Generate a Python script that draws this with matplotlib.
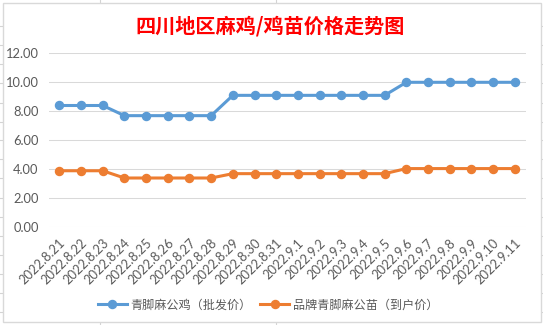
import matplotlib
matplotlib.use('Agg')
import matplotlib.pyplot as plt
import matplotlib.transforms as mtransforms
from matplotlib.patches import Rectangle

plt.rcParams['font.family'] = ['Lato', 'Noto Sans CJK SC', 'DejaVu Sans']

# données
dates = ['2022.8.21', '2022.8.22', '2022.8.23', '2022.8.24', '2022.8.25', '2022.8.26',
         '2022.8.27', '2022.8.28', '2022.8.29', '2022.8.30', '2022.8.31', '2022.9.1',
         '2022.9.2', '2022.9.3', '2022.9.4', '2022.9.5', '2022.9.6', '2022.9.7',
         '2022.9.8', '2022.9.9', '2022.9.10', '2022.9.11']
ji_price = [8.4, 8.4, 8.4, 7.7, 7.7, 7.7, 7.7, 7.7, 9.1, 9.1, 9.1, 9.1,
            9.1, 9.1, 9.1, 9.1, 10.0, 10.0, 10.0, 10.0, 10.0, 10.0]
miao_price = [3.9, 3.9, 3.9, 3.4, 3.4, 3.4, 3.4, 3.4, 3.7, 3.7, 3.7, 3.7,
              3.7, 3.7, 3.7, 3.7, 4.05, 4.05, 4.05, 4.05, 4.05, 4.05]
yticks = [0, 2, 4, 6, 8, 10, 12]

title = '四川地区麻鸡/鸡苗价格走势图'
label_ji = '青脚麻公鸡（批发价）'
label_miao = '品牌青脚麻公苗（到户价）'

W, H = 543, 325
fig = plt.figure(figsize=(W / 100, H / 100), dpi=100)

# fond du tableur (lignes de la feuille) puis zone du graphique
bg = fig.add_axes([0, 0, 1, 1], zorder=-10)
bg.set_xlim(0, W)
bg.set_ylim(H, 0)
bg.axis('off')
for y in [26, 45, 64.3, 83.3, 102.7, 121.7, 140, 159, 178, 197.7, 216.7, 236, 255, 274, 293, 312]:
    bg.plot([0, W], [y, y], color='#d4d4d4', lw=0.8)
for x in [100, 276]:
    bg.plot([x, x], [0, H], color='#d4d4d4', lw=0.8)
bg.add_patch(Rectangle((2.7, 2.5), 538, 319.5, facecolor='white', edgecolor='#d9d9d9', lw=1.0, zorder=5))

left, right = 48.5 / W, 525.6 / W
bottom, top = 1 - 227.3 / H, 1 - 53.3 / H
ax = fig.add_axes([left, bottom, right - left, top - bottom])
ax.patch.set_alpha(0)

x = list(range(len(dates)))
ax.plot(x, ji_price, color='#5B9BD5', lw=2.2, marker='o', markersize=5.8, label=label_ji)
ax.plot(x, miao_price, color='#ED7D31', lw=2.2, marker='o', markersize=5.8, label=label_miao)

ax.set_xlim(-0.5, len(dates) - 0.5)
ax.set_ylim(0, 12)
ax.set_yticks(yticks)
ax.set_yticklabels([f'{v:.2f}' for v in yticks])
ax.yaxis.grid(True, color='#d9d9d9', lw=0.75)
ax.set_axisbelow(True)
for s in ax.spines.values():
    s.set_visible(False)
ax.tick_params(axis='both', length=0, labelsize=9.3, labelcolor='#595959')
ax.tick_params(axis='y', pad=7)

ax.set_xticks(x)
ax.set_xticklabels(dates, rotation=45, ha='right', va='center', rotation_mode='anchor')
ax.tick_params(axis='x', pad=10)
offset = mtransforms.ScaledTranslation(4 / 100, 0, fig.dpi_scale_trans)
for lab in ax.get_xticklabels():
    lab.set_transform(lab.get_transform() + offset)

fig.text(270.5 / W, 1 - 26 / H, title, ha='center', va='center', color='#FF0000',
         fontsize=14.5, fontweight='bold', family=['Noto Sans CJK SC'])

fig.legend(loc='center', bbox_to_anchor=(268 / W, 1 - 304.5 / H), ncol=2, frameon=False,
           fontsize=8.7, labelcolor='#595959', handlelength=2.4, handletextpad=0.3,
           columnspacing=0.7)

fig.savefig('out.png', dpi=100)
